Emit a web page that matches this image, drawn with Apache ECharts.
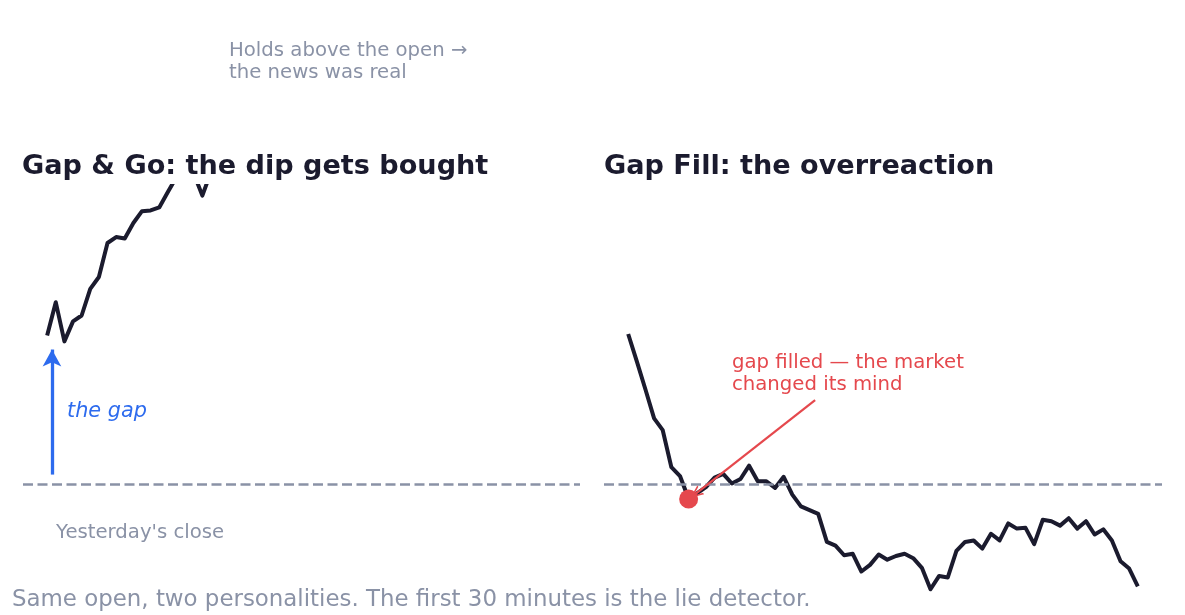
<!DOCTYPE html>
<html>
<head>
<meta charset="utf-8">
<script src="https://cdn.jsdelivr.net/npm/echarts@6/dist/echarts.min.js"></script>
<style>
  html, body { margin: 0; padding: 0; background: #fff; }
  #chart { width: 1185px; height: 615px; }
</style>
</head>
<body>
<div id="chart"></div>
<script>
// minute index, one point per tick of the first 30 minutes
const ticks = [];
for (let i = 0; i < 60; i++) ticks.push(i);

const prevClose = 100;

// gap & go: opens ~102, runs off the top of the panel
const goPrice = [
  102.01, 102.46, 101.93, 102.20, 102.28, 102.64, 102.80, 103.26, 103.34, 103.32,
  103.53, 103.69, 103.70, 103.74, 103.95, 104.15, 104.40, 104.20, 103.90, 104.22,
  104.50, 104.70, 104.60, 104.90, 105.10, 105.00, 105.30, 105.50, 105.40, 105.70,
  105.60, 105.90, 106.10, 106.00, 106.30, 106.20, 106.50, 106.70, 106.60, 106.80,
  107.00, 106.90, 107.20, 107.10, 107.40, 107.60, 107.50, 107.80, 107.70, 108.00,
  108.20, 108.10, 108.30, 108.50, 108.40, 108.70, 108.60, 108.90, 109.10, 109.00
];

// gap fill: opens ~102, sinks through yesterday's close
const fillPrice = [
  102.03, 101.66, 101.28, 100.89, 100.73, 100.23, 100.11, 99.80, 99.88, 99.96,
  100.09, 100.14, 100.01, 100.07, 100.25, 100.04, 100.04, 99.95, 100.10, 99.86,
  99.70, 99.65, 99.60, 99.22, 99.17, 99.04, 99.06, 98.82, 98.91, 99.05,
  98.98, 99.03, 99.06, 99.00, 98.87, 98.58, 98.76, 98.74, 99.10, 99.22,
  99.24, 99.13, 99.33, 99.24, 99.47, 99.40, 99.41, 99.19, 99.52, 99.50,
  99.44, 99.54, 99.40, 99.50, 99.32, 99.39, 99.24, 98.96, 98.86, 98.62
];

const fillIdx = 7; // where it touches the close

const ink = "#1b1b2e";
const grey = "#8a92a6";
const blue = "#2d6bee";
const red = "#e5484d";
const font = "DejaVu Sans";

const pairs = (ys) => ticks.map((t, i) => [t, ys[i]]);

const chart = echarts.init(document.getElementById("chart"));

const xAx = (idx) => ({ type: "value", gridIndex: idx, min: -2.8, max: 61.8, show: false });
const yAx = (idx) => ({ type: "value", gridIndex: idx, min: 98.4, max: 104.03, show: false });

const closeLine = {
  silent: true,
  symbol: "none",
  label: { show: false },
  lineStyle: { color: grey, type: [10, 4.5], width: 2.6 },
  data: [{ yAxis: prevClose }]
};

const option = {
  animation: false,
  grid: [
    { left: 23, top: 186, width: 557, height: 416.6 },
    { left: 604, top: 186, width: 558, height: 416.6 }
  ],
  xAxis: [xAx(0), xAx(1)],
  yAxis: [yAx(0), yAx(1)],
  series: [
    {
      type: "line",
      xAxisIndex: 0,
      yAxisIndex: 0,
      data: pairs(goPrice),
      showSymbol: false,
      clip: true,
      lineStyle: { color: ink, width: 4, join: "round" },
      markLine: closeLine
    },
    {
      // the gap arrow
      type: "line",
      xAxisIndex: 0,
      yAxisIndex: 0,
      data: [],
      markLine: {
        silent: true,
        symbol: ["none", "arrow"],
        symbolSize: [14, 17],
        label: { show: false },
        lineStyle: { color: blue, width: 3.3, type: "solid" },
        data: [[{ coord: [0.56, 100.13] }, { coord: [0.56, 101.82] }]]
      }
    },
    {
      type: "line",
      xAxisIndex: 1,
      yAxisIndex: 1,
      data: pairs(fillPrice),
      showSymbol: false,
      clip: true,
      lineStyle: { color: ink, width: 4, join: "round" },
      markLine: closeLine
    },
    {
      type: "scatter",
      xAxisIndex: 1,
      yAxisIndex: 1,
      data: [[ticks[fillIdx], fillPrice[fillIdx]]],
      symbolSize: 19,
      itemStyle: { color: red, opacity: 1 },
      z: 5,
      markLine: {
        silent: true,
        symbol: ["none", "path://M5,0 L10,12 L8.4,12 L5,3.6 L1.6,12 L0,12 Z"],
        symbolSize: [11, 13],
        label: { show: false },
        lineStyle: { color: red, width: 2.2, type: "solid" },
        data: [[{ coord: [21.64, 101.135] }, { coord: [7.8, 99.87] }]]
      }
    }
  ],
  graphic: [
    {
      type: "text",
      style: { x: 22, y: 167, text: "Gap & Go: the dip gets bought", font: "bold 27.1px " + font, fill: ink, verticalAlign: "middle" }
    },
    {
      type: "text",
      style: { x: 604, y: 167, text: "Gap Fill: the overreaction", font: "bold 27.1px " + font, fill: ink, verticalAlign: "middle" }
    },
    {
      type: "text",
      style: { x: 229, y: 62, text: "Holds above the open \u2192\nthe news was real", font: "19.7px " + font, lineHeight: 22, fill: grey, verticalAlign: "middle" }
    },
    {
      type: "text",
      style: { x: 67, y: 411.5, text: "the gap", font: "italic 20.8px " + font, fill: blue, verticalAlign: "middle" }
    },
    {
      type: "text",
      style: { x: 56, y: 533, text: "Yesterday's close", font: "19.7px " + font, fill: grey, verticalAlign: "middle" }
    },
    {
      type: "text",
      style: { x: 732, y: 373.5, text: "gap filled \u2014 the market\nchanged its mind", font: "19.7px " + font, lineHeight: 22, fill: red, verticalAlign: "middle" }
    },
    {
      type: "text",
      style: { x: 12, y: 600, text: "Same open, two personalities. The first 30 minutes is the lie detector.", font: "22.9px " + font, fill: grey, verticalAlign: "middle" }
    }
  ]
};

chart.setOption(option);
window.addEventListener("resize", () => chart.resize());
</script>
</body>
</html>
